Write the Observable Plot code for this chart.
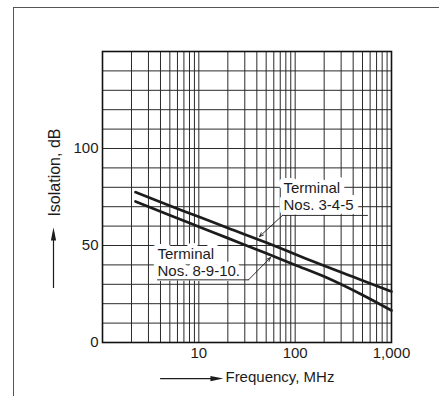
<!DOCTYPE html>
<html><head><meta charset="utf-8">
<script src="https://cdn.jsdelivr.net/npm/d3@7"></script>
<script src="https://cdn.jsdelivr.net/npm/@observablehq/plot@0.6"></script>
<style>
html,body{margin:0;padding:0;background:#fff;}
#wrap{position:relative;width:439px;height:396px;overflow:hidden;}
#border{position:absolute;left:13px;top:7px;width:440px;height:400px;border-top:1.5px solid #555;border-left:1.5px solid #555;}
#chart{position:absolute;left:0;top:0;}
</style></head><body>
<div id="wrap"><div id="border"></div><div id="chart"></div></div>
<script>
// Data
const freqs = [2.2, 5, 10, 20, 50, 100, 200, 500, 1000];           // MHz
const isoTerm345 = [77.5, 70.5, 64.8, 59, 51.5, 45.5, 39.5, 32, 26.3]; // dB
const isoTerm8910 = [72.7, 65.6, 59.7, 53.8, 46, 40, 34, 24.5, 16.5];  // dB

const gridFreqs = [1,2,3,4,5,6,7,8,9,10,20,30,40,50,60,70,80,90,100,200,300,400,500,600,700,800,900,1000];
const gridIso = [0,10,20,30,40,50,60,70,80,90,100,110,120,130,140,150];
const xTicks = [10, 100, 1000];
const xTickLabels = ["10", "100", "1,000"];
const yTicks = [0, 50, 100];

// Annotation anchors (in data space)
const labelTexts = ["Terminal", "Nos. 3-4-5", "Terminal", "Nos. 8-9-10."];
const labelFreq = [75.7, 75.7, 3.72, 3.72];
const labelIso = [77.0, 68.4, 42.9, 34.4];
const underlines = [
  [{f: 564, v: 65.5}, {f: 73.9, v: 65.5}],
  [{f: 3.72, v: 32.3}, {f: 32.8, v: 32.3}]
];
const leaders = [
  {f1: 73.9, v1: 65.5, f2: 42.6, v2: 54.6},
  {f1: 32.8, v1: 32.3, f2: 55.5, v2: 43.8}
];
const yTitle = {text: "Isolation, dB", f: 0.318, v: 87.6};
const yArrow = {f: 0.31, v1: 28.4, v2: 57, tip: 59.3};
const xTitle = {text: "Frequency, MHz", f: 18.9, v: -20.6};
const xArrow = {f1: 4.0, f2: 14.5, tip: 18.0, v: -18.6};

const series = [];
freqs.forEach((f, i) => series.push({f, v: isoTerm345[i], s: "345"}));
freqs.forEach((f, i) => series.push({f, v: isoTerm8910[i], s: "8910"}));
const labels = labelTexts.map((t, i) => ({t, f: labelFreq[i], v: labelIso[i]}));

const needle = {draw(ctx) { ctx.moveTo(0, 0); ctx.lineTo(2.6, 13); ctx.lineTo(-2.6, 13); ctx.closePath(); }};
const ink = "#1c1c1c";
const font = "'Liberation Sans', Arial, Helvetica, sans-serif";

const plot = Plot.plot({
  width: 439, height: 396,
  marginLeft: 102, marginRight: 48, marginTop: 51, marginBottom: 54,
  style: {fontFamily: font, fontSize: "15px", color: ink, background: "transparent", overflow: "visible"},
  x: {type: "log", domain: [1, 1000]},
  y: {domain: [0, 150]},
  marks: [
    Plot.ruleX(gridFreqs, {stroke: "#2a2a2a", strokeWidth: 1}),
    Plot.ruleY(gridIso, {stroke: "#2a2a2a", strokeWidth: 1}),
    Plot.frame({stroke: "#111", strokeWidth: 1.6}),
    Plot.line(series, {x: "f", y: "v", z: "s", stroke: ink, strokeWidth: 2.7, curve: "monotone-x"}),
    Plot.text(labels, {x: "f", y: "v", text: "t", textAnchor: "start", lineAnchor: "bottom", fontSize: 15, fill: ink, stroke: "white", strokeWidth: 10, strokeLinejoin: "round"}),
    ...underlines.map(u => Plot.line(u, {x: "f", y: "v", stroke: ink, strokeWidth: 0.9})),
    Plot.arrow(leaders, {x1: "f1", y1: "v1", x2: "f2", y2: "v2", stroke: ink, strokeWidth: 0.9, headLength: 7, headAngle: 45}),
    Plot.axisX(xTicks, {tickSize: 0, tickPadding: 5, tickFormat: d => xTickLabels[xTicks.indexOf(d)], label: null, fill: ink}),
    Plot.axisY(yTicks, {tickSize: 0, tickPadding: 4, label: null, fill: ink}),
    Plot.text([yTitle], {x: "f", y: "v", text: "text", rotate: -90, textAnchor: "middle", fontSize: 16, fill: ink}),
    Plot.line([{f: yArrow.f, v: yArrow.v1}, {f: yArrow.f, v: yArrow.v2}], {x: "f", y: "v", stroke: ink, strokeWidth: 1.2}),
    Plot.dot([yArrow], {x: "f", y: "tip", symbol: needle, fill: ink, stroke: null, rotate: 0}),
    Plot.text([xTitle], {x: "f", y: "v", text: "text", textAnchor: "start", lineAnchor: "bottom", fontSize: 15, fill: ink}),
    Plot.line([{f: xArrow.f1, v: xArrow.v}, {f: xArrow.f2, v: xArrow.v}], {x: "f", y: "v", stroke: ink, strokeWidth: 1.2}),
    Plot.dot([xArrow], {x: "tip", y: "v", symbol: needle, fill: ink, stroke: null, rotate: 90})
  ]
});
document.getElementById("chart").appendChild(plot);
</script>
</body></html>
